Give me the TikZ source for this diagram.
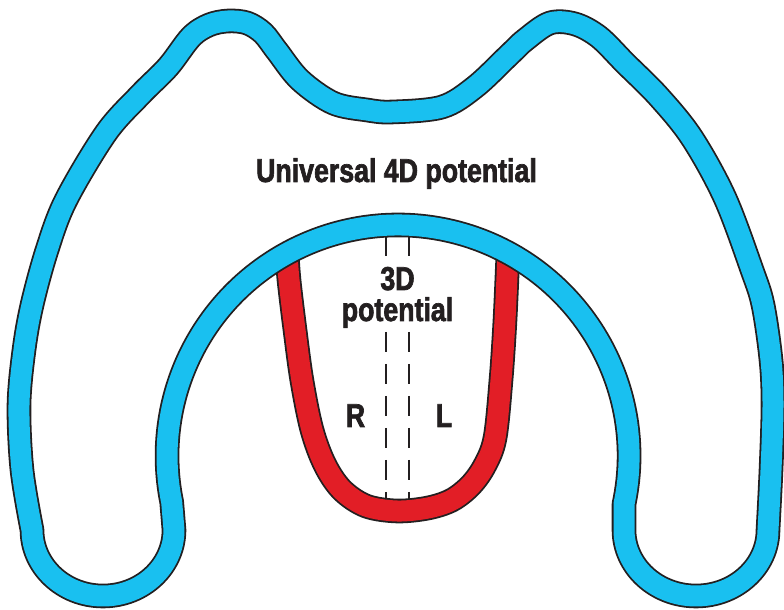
\documentclass[tikz,border=0pt]{standalone}
\usepackage{fontspec}
\setmainfont[FakeStretch=0.81,BoldFeatures={FakeBold=2}]{Liberation Sans}
\usepackage{tikz}
\definecolor{bandblue}{RGB}{25,192,240}
\definecolor{bandred}{RGB}{226,30,38}
\definecolor{ink}{RGB}{35,31,32}
\tikzset{
  band/.style={draw=ink,line width=1.8pt,double distance=21pt,line join=round},
  blueband/.style={band,double=bandblue},
  redband/.style={band,double=bandred},
  midline/.style={draw=ink,line width=1.6pt,dash pattern=on 20pt off 12pt},
  lbl/.style={font=\fontsize{33}{31}\selectfont\bfseries,text=ink,inner sep=0pt,anchor=base}
}
\begin{document}
\begin{tikzpicture}[x=1pt,y=1pt]
\useasboundingbox (0,0) rectangle (784,610);
\draw[midline] (386,374) -- (386,100);
\draw[midline] (409,374) -- (409,100);
\draw[redband] plot[smooth,tension=0.55] coordinates {(287,358) (289,330) (295,280) (302,229) (312,180) (325,145) (342,120) (366,104) (397,99) (428,102) (452,110) (471,125) (485,145) (495,172) (501,230) (505,290) (508,358)};
\draw[blueband] plot[smooth,tension=0.55] coordinates {(32,80) (22,140) (19,205) (24,260) (32,305) (47,360) (66,410) (106,477) (140,515) (168,543) (191,573) (209,585) (228,589) (247,587) (263,577) (277,559) (300,530) (333,507) (367,500) (392,498) (442,503) (475,523) (509,555) (525,570) (550,587) (575,586) (599,573) (625,547) (659,513) (692,472) (725,412) (752,340) (763,305) (771,250) (773,205) (771,140) (768,80)}
  arc[start angle=0,end angle=-180,x radius=72,y radius=66] -- (624,106)
  arc[start angle=-12,end angle=191.5,radius=231] -- (174,80)
  arc[start angle=0,end angle=-180,x radius=71,y radius=66] -- cycle;
\node[lbl] (univ) at (396.5,428) {Universal 4D potential};
\node[lbl,align=center,fill=white,inner sep=3pt] (threed) at (397.5,289) {3D\\potential};
\node[lbl] (right) at (355.5,183) {R};
\node[lbl] (left) at (444,183) {L};
\end{tikzpicture}
\end{document}
